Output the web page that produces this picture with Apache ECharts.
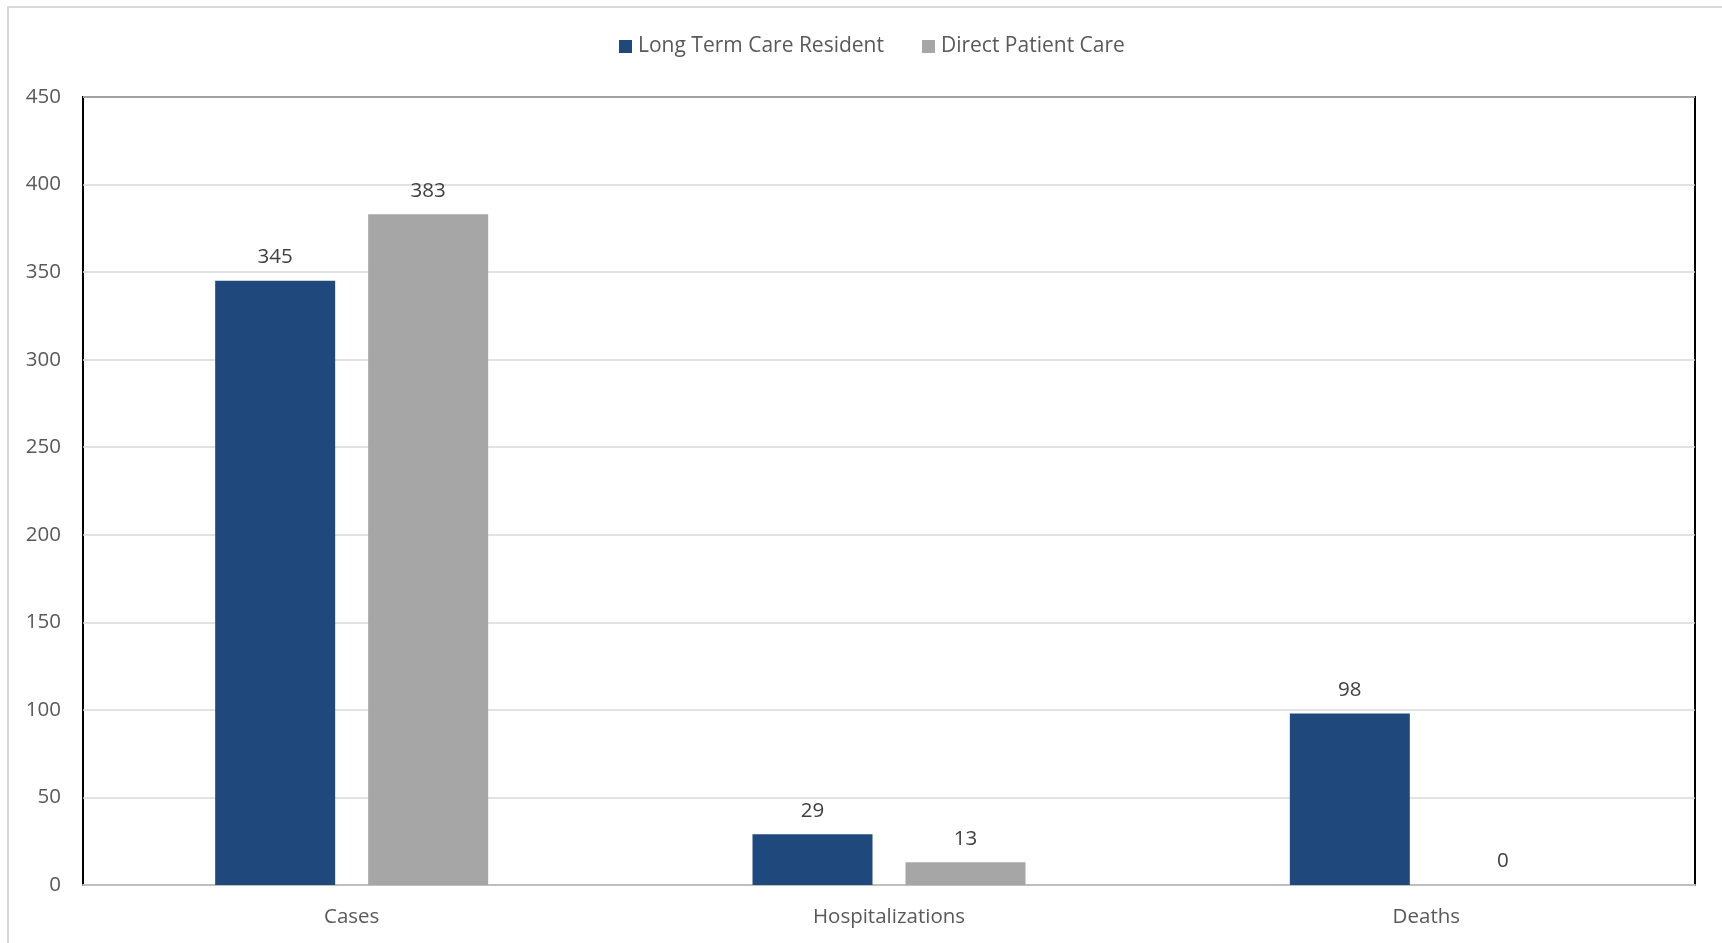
<!DOCTYPE html>
<html>
<head>
<meta charset="utf-8">
<script src="https://cdn.jsdelivr.net/npm/echarts@6/dist/echarts.min.js"></script>
<style>
html,body{margin:0;padding:0;background:#fff;}
#frame{position:absolute;left:7px;top:6px;width:1740px;height:960px;border:2px solid #d9d9d9;box-sizing:border-box;}
#chart{position:absolute;left:0;top:0;width:1722px;height:943px;}
</style>
</head>
<body>
<div id="frame"></div>
<div id="chart"></div>
<script>
const categories = ["Cases", "Hospitalizations", "Deaths"];
const seriesNames = ["Long Term Care Resident", "Direct Patient Care"];
const longTermCare = [345, 29, 98];
const directPatientCare = [383, 13, 0];
const colors = ["#1f497d", "#a6a6a6"];

const FONT = "'Open Sans', sans-serif";
const FS = 20.5;
const chart = echarts.init(document.getElementById('chart'), null, {renderer: 'canvas'});
const labelCfg = {show: true, position: 'top', distance: 13, color: '#404040', fontSize: FS, fontFamily: FONT};
chart.setOption({
  animation: false,
  textStyle: {fontFamily: FONT},
  legend: {
    top: 31, left: 614,
    itemWidth: 13, itemHeight: 13, itemGap: 38,
    icon: 'rect',
    textStyle: {color: '#595959', fontSize: 21, fontFamily: FONT, padding: [0, 0, 0, 1]},
    data: seriesNames
  },
  grid: {
    left: 83, right: 27, top: 97, bottom: 58,
    show: true, borderColor: '#000', borderWidth: 2, backgroundColor: 'transparent'
  },
  xAxis: {
    type: 'category', data: categories,
    axisLine: {show: true, lineStyle: {color: '#bfbfbf', width: 2}},
    axisTick: {show: false},
    axisLabel: {color: '#595959', fontSize: FS, fontFamily: FONT, margin: 22},
    splitLine: {show: false}
  },
  yAxis: {
    type: 'value', min: 0, max: 450, interval: 50,
    axisLine: {show: false}, axisTick: {show: false},
    axisLabel: {color: '#595959', fontSize: FS, fontFamily: FONT, margin: 22},
    splitLine: {show: true, lineStyle: {color: '#d9d9d9', width: 1.5}}
  },
  series: [
    {name: seriesNames[0], type: 'bar', data: longTermCare, itemStyle: {color: colors[0]},
     barWidth: 120, barGap: '27.5%', label: labelCfg},
    {name: seriesNames[1], type: 'bar', data: directPatientCare, itemStyle: {color: colors[1]},
     barWidth: 120, label: labelCfg}
  ]
});
</script>
</body>
</html>
